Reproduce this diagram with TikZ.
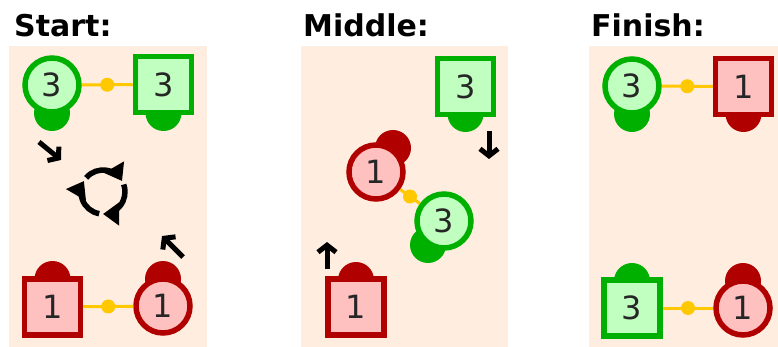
\documentclass[tikz,border=0pt]{standalone}
\usepackage{fontspec}
\setmainfont{DejaVu Sans}
\usetikzlibrary{arrows.meta}
\definecolor{peach}{HTML}{FFEEDF}
\definecolor{grnline}{HTML}{00B000}
\definecolor{grnfill}{HTML}{C0FFC0}
\definecolor{redline}{HTML}{B00000}
\definecolor{redfill}{HTML}{FFC0C0}
\definecolor{gold}{HTML}{FFC800}
\tikzset{
  ball/.style  ={circle, line width=5.5pt, minimum size=54pt, inner sep=0pt,
                 font=\fontsize{32}{32}\selectfont, text=black!85},
  box/.style   ={rectangle, line width=5.5pt, minimum size=56pt, inner sep=0pt,
                 font=\fontsize{32}{32}\selectfont, text=black!85},
  grn/.style   ={draw=grnline, fill=grnfill},
  rd/.style    ={draw=redline, fill=redfill},
  blob/.style  ={circle, minimum size=36pt, inner sep=0pt},
  link/.style  ={gold, line width=3pt},
  knot/.style  ={circle, fill=gold, minimum size=14pt, inner sep=0pt},
  panel/.style ={fill=peach},
  move/.style  ={-{Straight Barb[length=7pt, width=18pt, line width=5pt]}, line width=5pt},
  spin/.style  ={-{Triangle[length=16pt, width=22pt]}, line width=5.5pt},
  title/.style ={anchor=base west, inner sep=0pt,
                 font=\bfseries\fontsize{30}{30}\selectfont}
}
\begin{document}
\begin{tikzpicture}[x=1pt, y=-1pt]
\useasboundingbox (0,0) rectangle (778,347);
% panels
\fill[panel] (9,46)   rectangle (207,347);
\fill[panel] (301,46) rectangle (508,347);
\fill[panel] (589,46) rectangle (778,347);
\node[title] (tstart)  at (14,37)  {Start:};
\node[title] (tmiddle) at (303,37) {Middle:};
\node[title] (tfinish) at (591,37) {Finish:};

% start
\node[blob, fill=grnline] (s3cb) at (52,113)    {};
\node[blob, fill=grnline] (s3qb) at (163.5,113) {};
\node[blob, fill=redline] (s1qb) at (52.5,279)  {};
\node[blob, fill=redline] (s1cb) at (163,279)   {};
\node[ball, grn] (s3c) at (52,85)     {3};
\node[box,  grn] (s3q) at (163.5,84.5) {3};
\node[box,  rd]  (s1q) at (52.5,307)  {1};
\node[ball, rd]  (s1c) at (163,306)   {1};
\draw[link] (s3c) -- node[knot]{} (s3q);
\draw[link] (s1q) -- node[knot]{} (s1c);
\coordinate (s3go)  at (39,142);
\coordinate (s3to)  at (61,160);
\coordinate (s1go)  at (183,257);
\coordinate (s1to)  at (162,236);
\draw[move] (s3go) -- (s3to);
\draw[move] (s1go) -- (s1to);
\coordinate (hub) at (103,192);
\foreach \a in {0,120,240}
  \draw[spin] ([shift={(-140+\a:22)}]hub) arc[start angle=-140+\a, end angle=-30+\a, radius=22];

% middle
\node[blob, fill=grnline] (m3qb) at (465.5,114) {};
\node[blob, fill=redline] (m1cb) at (393,148)   {};
\node[blob, fill=grnline] (m3cb) at (428,245)   {};
\node[blob, fill=redline] (m1qb) at (356,280)   {};
\node[box,  grn] (m3q) at (465.5,86.5) {3};
\node[ball, rd]  (m1c) at (376,172)    {1};
\node[ball, grn] (m3c) at (444,221)    {3};
\node[box,  rd]  (m1q) at (356,307)    {1};
\draw[link] (m1c) -- node[knot]{} (m3c);
\coordinate (m3go) at (489,131);
\coordinate (m3to) at (489,159);
\coordinate (m1go) at (327,269);
\coordinate (m1to) at (327,242);
\draw[move] (m3go) -- (m3to);
\draw[move] (m1go) -- (m1to);

% finish
\node[blob, fill=grnline] (f3cb) at (632,114)   {};
\node[blob, fill=redline] (f1qb) at (743.5,114) {};
\node[blob, fill=grnline] (f3qb) at (632,281)   {};
\node[blob, fill=redline] (f1cb) at (743,281)   {};
\node[ball, grn] (f3c) at (632,86)     {3};
\node[box,  rd]  (f1q) at (743.5,86.5) {1};
\node[box,  grn] (f3q) at (632,308)    {3};
\node[ball, rd]  (f1c) at (743,308)    {1};
\draw[link] (f3c) -- node[knot]{} (f1q);
\draw[link] (f3q) -- node[knot]{} (f1c);
\end{tikzpicture}
\end{document}
